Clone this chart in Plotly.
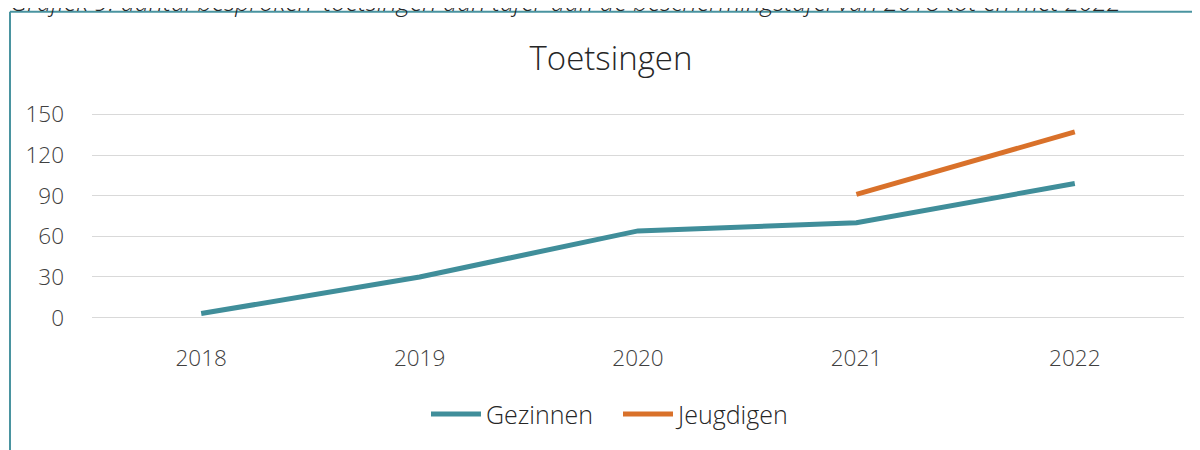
import plotly.graph_objects as go

years = ["2018", "2019", "2020", "2021", "2022"]
gezinnen = [3, 30, 64, 70, 99]
jeugdigen = [None, None, None, 91, 137]
y_ticks = [0, 30, 60, 90, 120, 150]

caption = "Grafiek 9: aantal besproken 'toetsingen aan tafel' aan de beschermingstafel van 2018 tot en met 2022"
title = "Toetsingen"

TEAL = "#408E9A"
ORANGE = "#D9712A"
FONT = "Open Sans"

# page has an 8px body margin: build figure in page coords minus offset
OFF = 8
W, H = 1200 - OFF, 450 - OFF
PLOT_L, PLOT_R = 92, 1184            # page px
Y150, Y0 = 114, 320                  # page px of 150 and 0
YMIN, YMAX = -1, 151
k = (Y0 - Y150) / 150.0              # px per unit
plot_top = Y150 - (YMAX - 150) * k
plot_bot = Y0 + (0 - YMIN) * k
ph = plot_bot - plot_top
L = PLOT_L - OFF
R = 1200 - PLOT_R
T = plot_top - OFF
B = 450 - plot_bot
pw = W - L - R

def px(x):
    return (x - OFF - L) / pw

def py(y):
    return (plot_bot - y) / ph

fig = go.Figure()
fig.add_trace(go.Scatter(x=years, y=gezinnen, name="Gezinnen", mode="lines",
                         line=dict(color=TEAL, width=5)))
fig.add_trace(go.Scatter(x=years, y=jeugdigen, name="Jeugdigen", mode="lines",
                         line=dict(color=ORANGE, width=5), connectgaps=False))

fig.update_layout(
    width=W, height=H,
    margin=dict(l=L, r=R, t=T, b=B, pad=0),
    paper_bgcolor="white", plot_bgcolor="white",
    font=dict(family=FONT, size=22, color="#404040", weight=300),
    title=dict(text=title, x=px(611), xref="paper", xanchor="center",
               y=1 - (58 - OFF) / H, yref="container", yanchor="middle",
               font=dict(size=33, color="#262626", family=FONT, weight=300)),
    showlegend=True,
    legend=dict(orientation="h", x=px(426), xanchor="left", y=py(418), yanchor="middle",
                font=dict(size=25, color="#262626", family=FONT, weight=300),
                itemwidth=50, entrywidth=127, entrywidthmode="pixels",
                bgcolor="rgba(0,0,0,0)"),
    xaxis=dict(type="category", range=[-0.5, 4.5], showgrid=False, zeroline=False,
               showline=False, ticks="", ticklabelstandoff=23,
               tickfont=dict(size=22.5, color="#404040")),
    yaxis=dict(range=[YMIN, YMAX], tickvals=y_ticks, showgrid=True, gridcolor="#D9D9D9",
               gridwidth=1.3, zeroline=False, showline=False, ticks="",
               ticklabelstandoff=27, tickfont=dict(size=22.5, color="#404040")),
)

# chart frame (border partially visible)
fig.add_shape(type="line", xref="paper", yref="paper", x0=px(10), x1=px(10), y0=py(10), y1=py(470),
              line=dict(color="#4A94A0", width=2), layer="above")
fig.add_shape(type="line", xref="paper", yref="paper", x0=px(10), x1=px(1220), y0=py(10), y1=py(10),
              line=dict(color="#4A94A0", width=2), layer="above")

# caption above frame (clipped at top)
fig.add_annotation(text="<i>" + caption + "</i>", xref="paper", yref="paper",
                   x=px(8), xanchor="left", y=py(-1), yanchor="middle", showarrow=False,
                   font=dict(size=25.3, color="#262626", family=FONT, weight=300))

fig.write_html("out.html")
